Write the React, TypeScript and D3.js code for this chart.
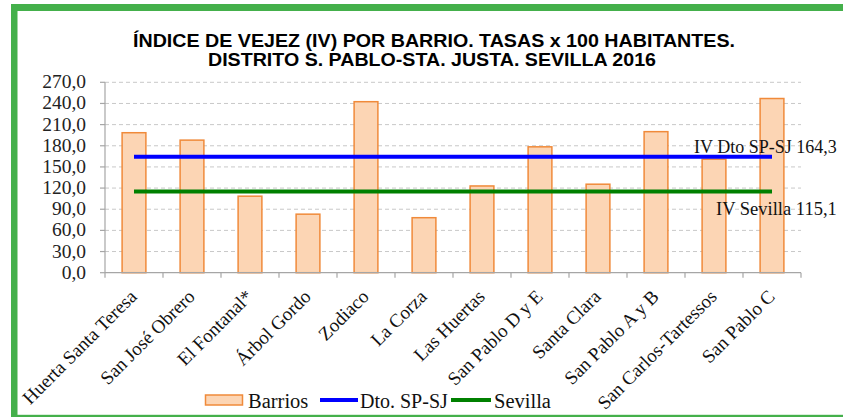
import React from "react";
import * as d3 from "d3";

const categories = [
  "Huerta Santa Teresa",
  "San José Obrero",
  "El Fontanal*",
  "Árbol Gordo",
  "Zodiaco",
  "La Corza",
  "Las Huertas",
  "San Pablo D y E",
  "Santa Clara",
  "San Pablo A y B",
  "San Carlos-Tartessos",
  "San Pablo C",
];
const barrios = [198.5, 188.0, 108.5, 83.0, 242.5, 78.0, 123.0, 178.5, 125.5, 200.0, 161.0, 247.0];
const distrito = 164.3;
const sevilla = 115.1;
const yTicks = [0, 30, 60, 90, 120, 150, 180, 210, 240, 270];
const titleLines = [
  "ÍNDICE DE VEJEZ (IV) POR BARRIO. TASAS x 100 HABITANTES.",
  "DISTRITO S. PABLO-STA. JUSTA. SEVILLA 2016",
];
const legendItems = ["Barrios", "Dto. SP-SJ", "Sevilla"];

const W = 843;
const H = 417;
const left = 105;
const right = 801;
const top = 82.3;
const bottom = 272.7;

const serif = "Liberation Serif";

export default function App() {
  const x = d3.scaleBand<string>().domain(categories).range([left, right]).paddingInner(0.59).paddingOuter(0.295);
  const xb = d3.scaleBand<string>().domain(categories).range([left, right]);
  const y = d3.scaleLinear().domain([0, 270]).range([bottom, top]);
  const fmt = (v: number) => d3.format(".1f")(v).replace(".", ",");
  const c0 = xb(categories[0])! + xb.bandwidth() / 2;
  const c1 = xb(categories[categories.length - 1])! + xb.bandwidth() / 2;
  const green = "#44b04b";

  return (
    <svg width={W} height={H} style={{ position: "absolute", left: 0, top: 0, background: "#fff" }}>
      <rect x={0} y={0} width={W} height={H} fill="#fff" />
      {/* frame */}
      <rect x={11} y={4} width={W} height={7} fill={green} />
      <rect x={11} y={4} width={6.5} height={H} fill={green} />
      <rect x={11} y={414.8} width={W} height={3} fill={green} />

      {/* title */}
      <g fontFamily="'Liberation Sans Narrow', 'Liberation Sans', Arial, sans-serif" fontWeight="bold" fontSize={17.5} fill="#000">
        <text x={434} y={46.7} textAnchor="middle" textLength={602} lengthAdjust="spacingAndGlyphs">
          {titleLines[0]}
        </text>
        <text x={432} y={66.3} textAnchor="middle" textLength={448} lengthAdjust="spacingAndGlyphs">
          {titleLines[1]}
        </text>
      </g>

      {/* grid */}
      {yTicks.slice(1).map((t) => (
        <line key={t} x1={left} x2={right} y1={y(t)} y2={y(t)} stroke="#c8c8c8" strokeWidth={1} strokeDasharray="4,3" />
      ))}

      {/* y axis */}
      <line x1={left} x2={left} y1={top} y2={bottom} stroke="#a6a6a6" strokeWidth={1.2} />
      {yTicks.map((t) => (
        <g key={t}>
          <line x1={left - 5} x2={left} y1={y(t)} y2={y(t)} stroke="#a6a6a6" strokeWidth={1.2} />
          <text x={86} y={y(t) + 6} textAnchor="end" fontFamily={serif} fontSize={19.5} fill="#222">
            {fmt(t)}
          </text>
        </g>
      ))}

      {/* bars */}
      {categories.map((c, i) => (
        <rect
          key={c}
          x={x(c)!}
          y={y(barrios[i])}
          width={x.bandwidth()}
          height={bottom - y(barrios[i])}
          fill="#fcd5b4"
          stroke="#f08a3a"
          strokeWidth={1.5}
        />
      ))}

      {/* x axis */}
      <line x1={left} x2={right} y1={bottom} y2={bottom} stroke="#a6a6a6" strokeWidth={1.2} />
      {d3.range(categories.length + 1).map((i) => {
        const xx = left + i * xb.bandwidth();
        return <line key={i} x1={xx} x2={xx} y1={bottom} y2={bottom + 5} stroke="#a6a6a6" strokeWidth={1.2} />;
      })}

      {/* reference lines */}
      <line x1={c0} x2={c1} y1={y(distrito)} y2={y(distrito)} stroke="#0000ff" strokeWidth={4} />
      <line x1={c0} x2={c1} y1={y(sevilla)} y2={y(sevilla)} stroke="#008000" strokeWidth={4} />
      <text x={694} y={153} fontFamily={serif} fontSize={18} fill="#111">
        {"IV Dto SP-SJ " + fmt(distrito)}
      </text>
      <text x={716} y={215} fontFamily={serif} fontSize={18.5} fill="#111">
        {"IV Sevilla " + fmt(sevilla)}
      </text>

      {/* category labels */}
      {categories.map((c) => {
        const cx = xb(c)! + xb.bandwidth() / 2;
        return (
          <text
            key={c}
            transform={`translate(${cx + 4},${bottom + 25}) rotate(-45)`}
            textAnchor="end"
            fontFamily={serif}
            fontSize={19}
            fill="#111"
          >
            {c}
          </text>
        );
      })}

      {/* legend */}
      <rect x={205.5} y={395} width={37} height={10} fill="#fcd5b4" stroke="#f08a3a" strokeWidth={1.5} />
      <text x={248} y={408} fontFamily={serif} fontSize={20.5} fill="#111">{legendItems[0]}</text>
      <line x1={320} x2={358} y1={400} y2={400} stroke="#0000ff" strokeWidth={4} />
      <text x={360} y={408} fontFamily={serif} fontSize={20} fill="#111">{legendItems[1]}</text>
      <line x1={451} x2={491} y1={400} y2={400} stroke="#008000" strokeWidth={4} />
      <text x={494} y={408} fontFamily={serif} fontSize={20.5} fill="#111">{legendItems[2]}</text>
    </svg>
  );
}
